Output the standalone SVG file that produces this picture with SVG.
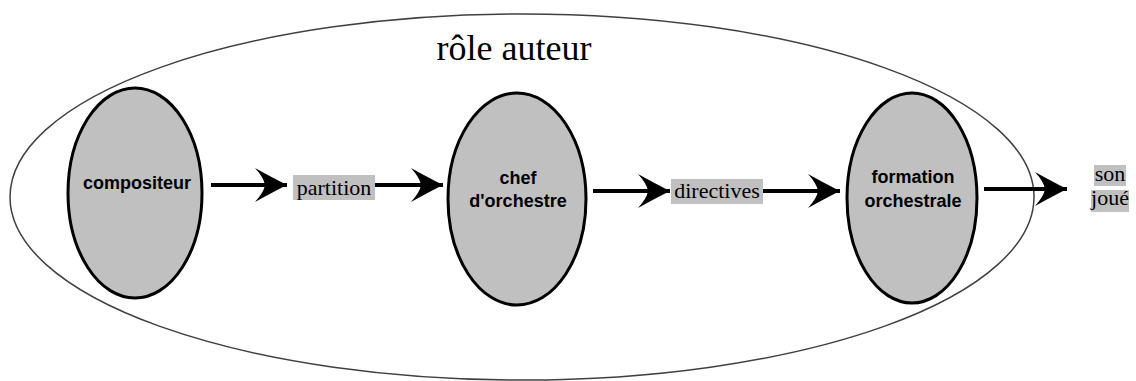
<svg xmlns="http://www.w3.org/2000/svg" width="1136" height="381" viewBox="0 0 1136 381">
<style>
.node{fill:#c0c0c0;stroke:#000;stroke-width:3}
.nt{font-family:"Liberation Sans",Arial,sans-serif;font-weight:bold;font-size:18px;text-anchor:middle;fill:#000}
.lt{font-family:"Liberation Serif","Times New Roman",serif;font-size:22px;text-anchor:middle;fill:#000}
.lb{fill:#c0c0c0}
.ln{stroke:#000;stroke-width:4;fill:none}
</style>
<defs>
<marker id="ah" markerUnits="userSpaceOnUse" markerWidth="36" markerHeight="40" viewBox="-2 -20 36 40" refX="32" refY="0" orient="auto">
<path d="M0,-17 Q18,-7 32,0 Q18,7 0,17 Q9,7 10,0 Q9,-7 0,-17 Z" fill="#000"/>
</marker>
</defs>
<g id="role">
<ellipse cx="522" cy="197" rx="512" ry="183" fill="none" stroke="#404040" stroke-width="1.5"/>
<text x="514" y="60" font-family="Liberation Serif,'Times New Roman',serif" font-size="36" text-anchor="middle">rôle auteur</text>
</g>
<g id="compositeur">
<ellipse class="node" cx="135" cy="193" rx="67" ry="105"/>
<text class="nt" x="137" y="189">compositeur</text>
</g>
<g id="chef">
<ellipse class="node" cx="517" cy="199" rx="69" ry="106"/>
<text class="nt" x="518" y="184">chef</text>
<text class="nt" x="518" y="207">d'orchestre</text>
</g>
<g id="formation">
<ellipse class="node" cx="912" cy="198" rx="65" ry="105"/>
<text class="nt" x="913" y="183">formation</text>
<text class="nt" x="913" y="207">orchestrale</text>
</g>
<g id="connectors">
<line class="ln" x1="211" y1="185" x2="287" y2="185" marker-end="url(#ah)"/>
<line class="ln" x1="375" y1="185" x2="443" y2="185" marker-end="url(#ah)"/>
<line class="ln" x1="593" y1="191" x2="670" y2="191" marker-end="url(#ah)"/>
<line class="ln" x1="763" y1="191" x2="840" y2="191" marker-end="url(#ah)"/>
<line class="ln" x1="984" y1="189" x2="1067" y2="189" marker-end="url(#ah)"/>
</g>
<g id="partition">
<rect class="lb" x="293" y="175" width="82" height="25"/>
<text class="lt" x="334" y="195">partition</text>
</g>
<g id="directives">
<rect class="lb" x="671" y="179" width="92" height="25"/>
<text class="lt" x="717" y="198">directives</text>
</g>
<g id="son">
<rect class="lb" x="1094" y="165" width="32" height="21"/>
<text class="lt" x="1110" y="181" font-size="21">son</text>
<rect class="lb" x="1091" y="190" width="38" height="22"/>
<text class="lt" x="1110" y="205" font-size="21">joué</text>
</g>
</svg>
